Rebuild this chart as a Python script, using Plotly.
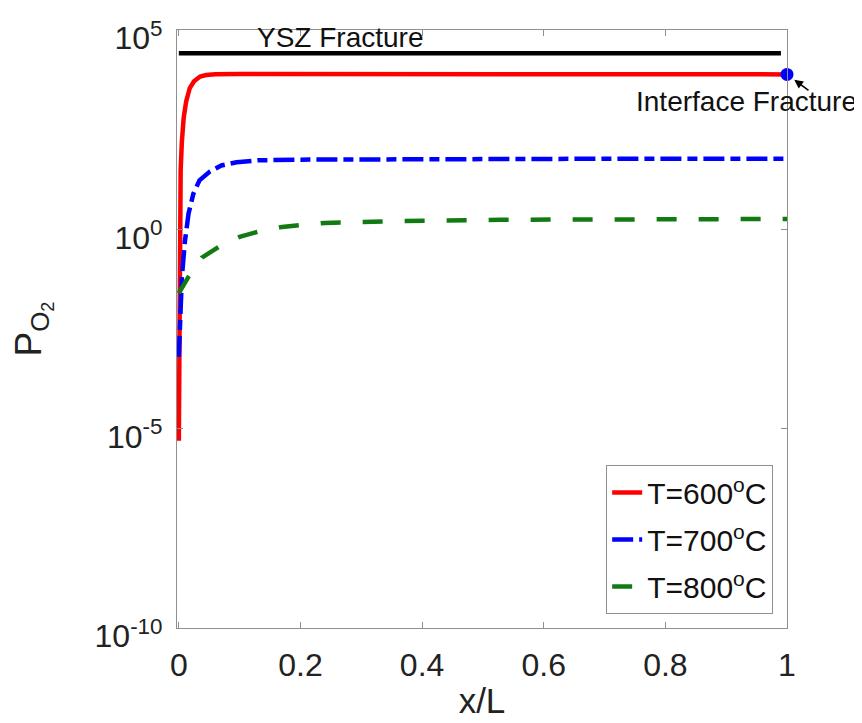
import math
import plotly.graph_objects as go

# ---- data ----
x_600 = [0, 0.001, 0.002, 0.003, 0.005, 0.008, 0.012, 0.018, 0.025, 0.035, 0.045, 0.06, 0.1, 0.2, 0.4, 0.6, 0.8, 1.0]
y_600 = [5e-6, 0.1, 3, 30, 160, 630, 1600, 3500, 5200, 6800, 7400, 7800, 7900, 7900, 7900, 7900, 7800, 7700]

x_700 = [0, 0.002, 0.005, 0.01, 0.016, 0.024, 0.034, 0.051, 0.07, 0.095, 0.13, 0.2, 0.4, 0.7, 1.0]
y_700 = [6.3e-4, 0.01, 0.063, 0.5, 2.5, 7.9, 17, 28, 40, 48, 54, 56, 58, 59, 59]

x_800 = [0, 0.016, 0.038, 0.065, 0.1, 0.13, 0.17, 0.2, 0.24, 0.27, 0.366, 0.53, 0.75, 1.0]
y_800 = [0.025, 0.065, 0.195, 0.36, 0.65, 0.87, 1.15, 1.29, 1.45, 1.48, 1.62, 1.74, 1.78, 1.82]

x_ysz = [0, 0.99]
y_ysz = [2.6e4, 2.6e4]

x_interface = [1.0]
y_interface = [7700]

series_names = ["T=600<sup>o</sup>C", "T=700<sup>o</sup>C", "T=800<sup>o</sup>C"]
x_ticks = [0, 0.2, 0.4, 0.6, 0.8, 1]
x_tick_text = ["0", "0.2", "0.4", "0.6", "0.8", "1"]
y_ticks = [1e-10, 1e-5, 1e0, 1e5]
y_tick_text = ["10<sup>-10</sup>", "10<sup>-5</sup>", "10<sup>0</sup>", "10<sup>5</sup>"]

FONT = "Liberation Sans, Arial, Helvetica, sans-serif"
AXIS_COLOR = "#8f8f8f"

fig = go.Figure()
fig.add_trace(go.Scatter(x=x_ysz, y=y_ysz, mode="lines", line=dict(color="black", width=4.5),
                         showlegend=False, hoverinfo="skip"))
fig.add_trace(go.Scatter(x=x_600, y=y_600, mode="lines", name=series_names[0], legendgroup="a",
                         line=dict(color="#ff0000", width=4.5)))
fig.add_trace(go.Scatter(x=x_700, y=y_700, mode="lines", name=series_names[1], legendgroup="b",
                         line=dict(color="#0000ff", width=4.5, dash="21px,6px,10px,6px")))
fig.add_trace(go.Scatter(x=x_800, y=y_800, mode="lines", name=series_names[2], legendgroup="c",
                         line=dict(color="#127a12", width=4.5, dash="20px,22px")))
fig.add_trace(go.Scatter(x=x_interface, y=y_interface, mode="markers", showlegend=False,
                         marker=dict(color="#0000ff", size=13), cliponaxis=False, hoverinfo="skip"))

fig.add_annotation(x=0.267, y=0.988, xref="paper", yref="paper", xanchor="center", yanchor="middle",
                   text="YSZ Fracture", showarrow=False, font=dict(family=FONT, size=28, color="#111"))
fig.add_annotation(x=0.934, y=0.880, xref="paper", yref="paper", xanchor="center", yanchor="middle",
                   text="Interface Fracture", showarrow=False, font=dict(family=FONT, size=28, color="#111"))
fig.add_annotation(x=x_interface[0], y=math.log10(y_interface[0]), xref="x", yref="y", text="",
                   showarrow=True, arrowhead=2, arrowsize=1.1, arrowwidth=1.6, arrowcolor="black",
                   ax=23, ay=17, standoff=9)

fig.update_xaxes(range=[-0.003, 1.0], tickvals=x_ticks, ticktext=x_tick_text, automargin=False,
                 showline=True, linecolor=AXIS_COLOR, linewidth=1.2, mirror="ticks",
                 ticks="inside", ticklen=6, tickcolor=AXIS_COLOR, showgrid=False, zeroline=False,
                 ticklabelstandoff=8, ticklabeloverflow="allow",
                 tickfont=dict(family=FONT, size=32, color="#222"),
                 title=dict(text="x/L", font=dict(family=FONT, size=35, color="#222"), standoff=6))
fig.update_yaxes(type="log", range=[-10, 5], tickvals=y_ticks, ticktext=y_tick_text, automargin=False,
                 showline=True, linecolor=AXIS_COLOR, linewidth=1.2, mirror="ticks",
                 ticks="inside", ticklen=6, tickcolor=AXIS_COLOR, showgrid=False, zeroline=False,
                 ticklabelstandoff=7, ticklabelshift=8, ticklabeloverflow="allow",
                 tickfont=dict(family=FONT, size=32, color="#222"),
                 title=dict(text="P<sub>O<sub>2</sub></sub>", font=dict(family=FONT, size=37, color="#222"),
                            standoff=53))

# page body has an 8px margin, so the figure is 8px smaller on each axis
fig.update_layout(
    width=854, height=715,
    margin=dict(l=169, r=75, t=22, b=95, autoexpand=False),
    paper_bgcolor="white", plot_bgcolor="white",
    font=dict(family=FONT, color="#222"),
    legend=dict(x=0.977, xanchor="right", y=0.023, yanchor="bottom",
                bordercolor=AXIS_COLOR, borderwidth=1.2, bgcolor="white",
                font=dict(family=FONT, size=30, color="#111"), tracegroupgap=5),
    showlegend=True,
)

fig.write_html("out.html")
